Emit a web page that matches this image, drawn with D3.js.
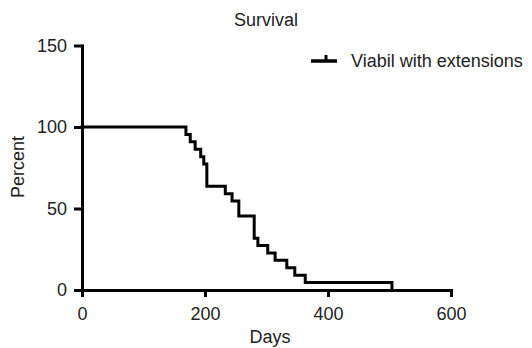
<!DOCTYPE html>
<html>
<head>
<meta charset="utf-8">
<script src="https://cdn.jsdelivr.net/npm/d3@7"></script>
<style>
  html, body { margin: 0; padding: 0; background: #fff; }
  svg { display: block; font-family: "Liberation Sans", Arial, Helvetica, sans-serif; }
</style>
</head>
<body>
<svg id="chart" width="532" height="348"></svg>
<script>
// Kaplan-Meier step data (days at which survival drops, and survival after the drop)
const stepDays = [0, 169, 176, 184, 193, 198, 203, 233, 244, 255, 280, 286, 302, 314, 333, 346, 363, 504];
const survival = [100, 95.45, 90.91, 86.36, 81.82, 77.27, 63.64, 59.09, 54.55, 45.45, 31.82, 27.27, 22.73, 18.18, 13.64, 9.09, 4.55, 0];
const xTicks = [0, 200, 400, 600];
const yTicks = [0, 50, 100, 150];
const seriesName = "Viabil with extensions";
const titleText = "Survival";
const xLabel = "Days";
const yLabel = "Percent";

const svg = d3.select("#chart");
const x = d3.scaleLinear().domain([0, 600]).range([82, 451]);
const y = d3.scaleLinear().domain([0, 150]).range([290, 45.5]);
const textColor = "#222";

// Axes
const yAxis = svg.append("g")
  .attr("transform", `translate(${x(0)},0)`)
  .call(d3.axisLeft(y).tickValues(yTicks).tickSize(8).tickSizeOuter(0).tickPadding(7));
const xAxis = svg.append("g")
  .attr("transform", `translate(0,${y(0)})`)
  .call(d3.axisBottom(x).tickValues(xTicks).tickSize(7).tickSizeOuter(0).tickPadding(10));

[xAxis, yAxis].forEach(g => {
  g.selectAll("path.domain").attr("stroke", "#000").attr("stroke-width", 3).attr("stroke-linecap", "square");
  g.selectAll(".tick line").attr("stroke", "#000").attr("stroke-width", 3);
  g.selectAll(".tick text").attr("fill", textColor).style("font-size", "18px")
    .style("font-family", "'Liberation Sans', Arial, sans-serif");
});

// Survival step curve
const pts = stepDays.map((d, i) => [d, survival[i]]);
const line = d3.line().x(d => x(d[0])).y(d => y(d[1])).curve(d3.curveStepAfter);
svg.append("path")
  .datum(pts)
  .attr("d", line)
  .attr("fill", "none")
  .attr("stroke", "#000")
  .attr("stroke-width", 3)
  .attr("stroke-linejoin", "miter")
  .attr("stroke-linecap", "square");

// Title
svg.append("text")
  .attr("x", 266).attr("y", 26)
  .attr("text-anchor", "middle")
  .attr("fill", textColor)
  .style("font-size", "18px")
  .text(titleText);

// Axis labels
svg.append("text")
  .attr("x", 270).attr("y", 343)
  .attr("text-anchor", "middle")
  .attr("fill", textColor)
  .style("font-size", "18px")
  .text(xLabel);
svg.append("text")
  .attr("transform", "translate(24,167) rotate(-90)")
  .attr("text-anchor", "middle")
  .attr("fill", textColor)
  .style("font-size", "18px")
  .text(yLabel);

// Legend
const lg = svg.append("g");
lg.append("line").attr("x1", 311).attr("x2", 337).attr("y1", 61).attr("y2", 61)
  .attr("stroke", "#000").attr("stroke-width", 3.5);
lg.append("line").attr("x1", 326).attr("x2", 326).attr("y1", 55).attr("y2", 61)
  .attr("stroke", "#000").attr("stroke-width", 3);
lg.append("text")
  .attr("x", 351).attr("y", 67)
  .attr("fill", textColor)
  .style("font-size", "18px")
  .text(seriesName);
</script>
</body>
</html>
